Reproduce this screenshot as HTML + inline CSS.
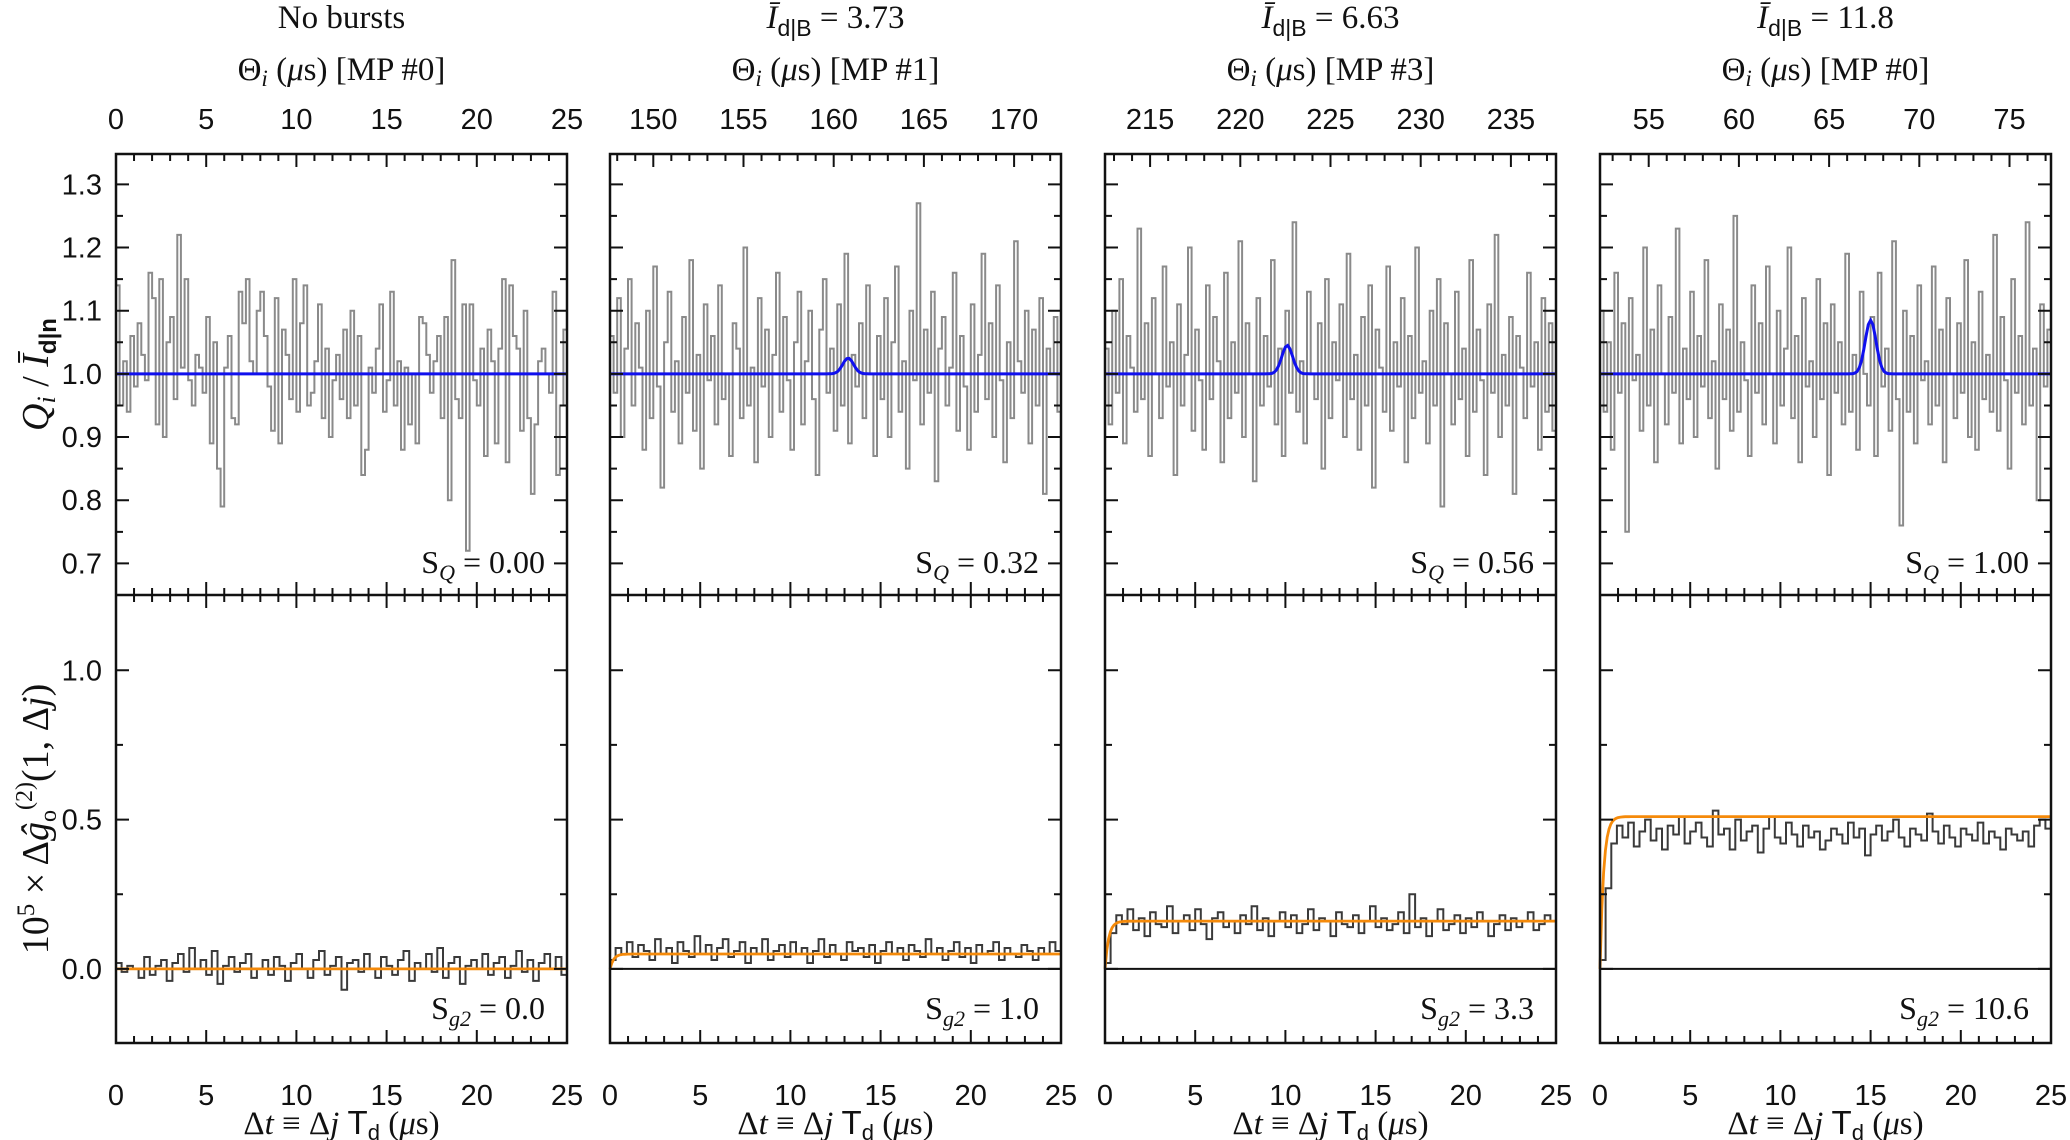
<!DOCTYPE html>
<html><head><meta charset="utf-8"><style>
html,body{margin:0;padding:0;background:#fff}
svg{display:block}
.tk{font-family:"Liberation Sans",sans-serif;font-size:29px;fill:#111}
.sf{font-family:"Liberation Serif",serif;fill:#111}
</style></head><body>
<svg id="fig" width="2070" height="1140" viewBox="0 0 2070 1140" xmlns="http://www.w3.org/2000/svg"></svg>
<script>
// ---- data ----
const panelTitles = ["No bursts","3.73","6.63","11.8"];
const topLabels = ["MP #0","MP #1","MP #3","MP #0"];
const topStart = [0,147.6,212.5,52.3];
const burstCenter = [null,160.8,222.6,67.3];
const burstHeight = [0,0.025,0.045,0.085];
const sQ = ["0.00","0.32","0.56","1.00"];
const sG = ["0.0","1.0","3.3","10.6"];
const fitLevel = [0,0.05,0.16,0.51];
const upperTicks = [0.7,0.8,0.9,1.0,1.1,1.2,1.3];
const lowerTicks = [0.0,0.5,1.0];
const bottomTicks = [0,5,10,15,20,25];

const q1 = [1.14,0.95,1.02,0.94,1.06,0.98,1.08,1.03,0.99,1.16,1.12,0.92,1.15,0.90,1.05,1.09,0.96,1.22,1.01,1.15,0.99,0.95,1.03,1.01,0.97,1.09,0.89,1.05,0.85,0.79,1.01,1.06,0.93,0.92,1.13,1.08,1.15,1.02,1.00,1.10,1.13,1.06,0.98,0.91,1.12,0.89,1.07,1.03,0.96,1.15,0.94,1.08,1.14,0.95,0.97,1.02,1.11,0.93,1.04,0.90,0.99,1.03,0.96,1.07,0.93,1.10,0.95,1.06,0.84,0.88,1.01,0.97,1.04,1.11,0.94,0.99,1.13,0.95,1.02,0.88,1.01,0.92,1.00,0.89,1.09,1.08,1.03,0.97,1.02,1.06,0.93,1.09,0.80,1.18,0.96,0.93,1.11,0.72,1.11,0.99,0.95,1.04,0.87,1.07,1.02,0.89,1.04,1.15,0.86,1.14,1.06,1.04,0.91,1.10,0.93,0.81,0.92,1.02,1.04,1.00,0.97,1.13,0.84,0.95,1.07];
const q2 = [1.06,0.97,1.12,0.90,1.04,1.15,0.95,1.08,1.01,0.88,1.10,0.93,1.17,0.98,0.82,1.05,1.13,0.94,1.02,0.89,1.09,0.97,1.18,0.91,1.03,0.85,1.11,0.99,1.06,0.92,1.14,0.96,1.00,0.87,1.08,1.04,0.93,1.20,0.95,1.01,0.86,1.12,0.98,1.07,0.90,1.03,1.16,0.94,1.09,0.99,0.88,1.05,1.13,0.92,1.02,1.10,0.96,0.84,1.07,1.15,0.97,1.04,0.91,1.11,0.95,1.19,0.89,1.03,0.98,1.08,0.93,1.14,1.00,0.87,1.06,0.96,1.12,0.90,1.05,1.17,0.94,1.02,0.85,1.10,0.99,1.27,0.92,1.07,0.97,1.13,0.83,1.04,1.09,0.95,1.01,1.16,0.91,1.06,0.98,0.88,1.11,0.94,1.03,1.19,0.96,1.08,0.90,1.14,0.99,0.86,1.05,0.93,1.21,1.02,0.97,1.10,0.89,1.07,0.95,1.12,0.81,1.04,1.00,1.09,0.94];
const q3 = [1.04,0.92,1.10,0.97,1.15,0.89,1.06,1.01,0.94,1.23,0.96,1.08,0.87,1.12,1.00,0.93,1.17,0.98,1.05,0.84,1.11,0.95,1.03,1.20,0.91,1.07,0.99,0.88,1.14,0.96,1.09,1.02,0.86,1.16,0.93,1.05,0.97,1.21,0.90,1.08,1.00,0.83,1.12,0.95,1.06,0.98,1.18,0.92,1.04,0.87,1.10,0.97,1.24,0.94,1.02,0.89,1.13,1.00,0.96,1.08,0.85,1.15,0.93,1.05,0.99,1.11,0.90,1.19,0.96,1.03,0.88,1.09,0.95,1.14,0.82,1.07,1.01,0.94,1.17,0.91,1.05,0.98,1.12,0.86,1.06,0.93,1.20,0.97,1.02,0.89,1.10,0.95,1.15,0.79,1.08,1.00,0.92,1.13,0.96,1.04,0.87,1.18,0.94,1.07,0.99,0.84,1.11,0.97,1.22,0.90,1.03,0.95,1.09,0.81,1.06,1.01,0.93,1.16,0.98,1.05,0.88,1.12,0.94,1.08,0.91];
const q4 = [1.10,0.94,1.05,0.88,1.16,0.97,1.08,0.75,1.12,0.99,1.03,0.91,1.20,0.95,1.07,0.86,1.14,1.00,0.92,1.09,0.97,1.23,0.89,1.04,0.96,1.13,0.90,1.06,0.98,1.18,0.93,1.02,0.85,1.11,0.96,1.07,0.91,1.25,0.94,1.05,0.99,0.87,1.14,0.97,1.08,0.92,1.17,1.00,0.89,1.10,0.95,1.04,1.20,0.93,1.06,0.86,1.12,0.98,1.02,0.90,1.15,0.96,1.08,0.84,1.11,0.97,1.05,0.92,1.19,0.94,1.03,0.88,1.13,1.00,0.95,1.09,0.87,1.16,0.98,1.04,0.91,1.21,0.96,0.76,1.10,0.94,1.06,0.89,1.14,0.99,1.02,0.92,1.17,0.95,1.07,0.86,1.12,1.00,0.93,1.08,0.97,1.18,0.90,1.05,0.88,1.13,0.96,1.03,0.94,1.22,0.91,1.09,0.99,0.85,1.15,0.97,1.06,0.92,1.24,0.95,1.04,0.80,1.11,0.98,1.07];

const g1 = [0.02,-0.01,0.01,0.00,-0.03,0.04,-0.02,0.01,0.03,-0.04,0.02,0.05,-0.01,0.07,0.00,0.03,-0.02,0.06,-0.05,0.01,0.04,-0.01,0.02,0.05,-0.03,0.00,0.03,-0.02,0.04,0.01,-0.04,0.02,0.05,0.00,-0.03,0.03,0.06,-0.02,0.01,0.04,-0.07,0.02,0.03,-0.01,0.05,0.00,-0.03,0.04,0.01,-0.02,0.03,0.06,-0.04,0.02,0.00,0.05,-0.01,0.07,-0.03,0.02,0.04,-0.05,0.01,0.03,0.00,0.05,-0.02,0.02,0.04,-0.03,0.01,0.06,-0.01,0.03,-0.04,0.02,0.05,0.00,0.04,-0.02];
const g2 = [0.03,0.07,0.05,0.09,0.04,0.08,0.06,0.03,0.10,0.05,0.07,0.02,0.09,0.06,0.04,0.11,0.05,0.08,0.03,0.07,0.10,0.04,0.06,0.09,0.02,0.07,0.05,0.10,0.03,0.06,0.08,0.04,0.09,0.05,0.07,0.02,0.06,0.10,0.04,0.08,0.05,0.03,0.09,0.06,0.07,0.04,0.08,0.02,0.06,0.09,0.05,0.07,0.03,0.08,0.06,0.04,0.10,0.05,0.07,0.03,0.06,0.09,0.04,0.07,0.02,0.08,0.05,0.06,0.09,0.03,0.07,0.05,0.04,0.08,0.06,0.03,0.07,0.05,0.09,0.06];
const g3 = [0.02,0.12,0.18,0.15,0.20,0.13,0.17,0.11,0.19,0.15,0.14,0.21,0.12,0.16,0.18,0.13,0.20,0.15,0.10,0.17,0.19,0.14,0.16,0.12,0.18,0.15,0.21,0.13,0.17,0.11,0.16,0.19,0.14,0.18,0.12,0.15,0.20,0.13,0.17,0.16,0.11,0.19,0.15,0.14,0.18,0.12,0.16,0.21,0.14,0.17,0.13,0.15,0.19,0.12,0.25,0.14,0.17,0.11,0.16,0.20,0.13,0.15,0.18,0.12,0.17,0.14,0.19,0.16,0.11,0.15,0.18,0.13,0.17,0.14,0.16,0.19,0.13,0.15,0.18,0.16];
const g4 = [0.03,0.27,0.42,0.48,0.44,0.49,0.41,0.46,0.50,0.43,0.47,0.40,0.48,0.45,0.51,0.42,0.46,0.49,0.44,0.41,0.53,0.45,0.47,0.40,0.50,0.43,0.46,0.48,0.39,0.47,0.51,0.44,0.42,0.49,0.45,0.41,0.48,0.44,0.46,0.40,0.43,0.47,0.45,0.42,0.49,0.44,0.47,0.38,0.45,0.48,0.43,0.46,0.50,0.44,0.41,0.47,0.45,0.43,0.52,0.46,0.42,0.48,0.44,0.41,0.47,0.45,0.43,0.49,0.42,0.46,0.44,0.40,0.47,0.45,0.43,0.46,0.41,0.48,0.50,0.47];

const qData=[q1,q2,q3,q4], gData=[g1,g2,g3,g4];

// ---- layout ----
const svg=document.getElementById('fig');
const NS="http://www.w3.org/2000/svg";
const PX=[116,610,1105,1600], PW=451;
const yTop=154, yMid=595, yBot=1043;
function el(tag,attrs,parent){const e=document.createElementNS(NS,tag);for(const k in attrs)e.setAttribute(k,attrs[k]);(parent||svg).appendChild(e);return e;}
const yU=v=>yTop+(1.348-v)/(1.348-0.65)*(yMid-yTop);
const yL=v=>yMid+(1.252-v)/(1.252+0.248)*(yBot-yMid);

for(let p=0;p<4;p++){
  const x0=PX[p];
  const g=el('g',{});
  
  
  const xB=v=>x0+v/25*PW;
  const xT=v=>x0+(v-topStart[p])/25*PW;
  const t=el('text',{x:x0+PW/2,y:28,'text-anchor':'middle','font-size':33,class:'sf'},g);
  
  
  if(p===0){t.textContent=panelTitles[0];}
  else{t.innerHTML='<tspan font-style="italic">Ī</tspan><tspan font-family="Liberation Sans" font-size="23" dy="8">d|B</tspan><tspan dy="-8"> = '+panelTitles[p]+'</tspan>';}
  const th=el('text',{x:x0+PW/2,y:80,'text-anchor':'middle','font-size':33,class:'sf'},g);
  
  
  th.innerHTML='Θ<tspan font-style="italic" font-size="23" dy="6">i</tspan><tspan dy="-6"> (</tspan><tspan font-style="italic">μ</tspan>s) ['+topLabels[p]+']';
  const q=qData[p], bw=25/q.length;
  let d='';
  q.forEach((v,i)=>{const xa=xB(i*bw),xb=xB((i+1)*bw),y=yU(v);d+=(i?'L':'M')+xa.toFixed(1)+','+y.toFixed(1)+'L'+xb.toFixed(1)+','+y.toFixed(1);});
  const pu=el('path',{d:d,fill:'none',stroke:'#8a8a8a','stroke-width':2},g);
  
  
  let bd='';
  for(let k=0;k<=200;k++){const v=topStart[p]+k*25/200;let y=1;if(burstCenter[p]!==null)y+=burstHeight[p]*Math.exp(-Math.pow((v-burstCenter[p])/0.3,2)/2);bd+=(k?'L':'M')+xT(v).toFixed(1)+','+yU(y).toFixed(1);}
  const pb=el('path',{d:bd,fill:'none',stroke:'#1010ee','stroke-width':3},g);
  
  
  const gg=gData[p], bw2=25/gg.length;
  el('line',{x1:x0,x2:x0+PW,y1:yL(0),y2:yL(0),stroke:'#111','stroke-width':2},g);
  let ld='';
  gg.forEach((v,i)=>{const xa=xB(i*bw2),xb=xB((i+1)*bw2),y=yL(v);ld+=(i?'L':'M')+xa.toFixed(1)+','+y.toFixed(1)+'L'+xb.toFixed(1)+','+y.toFixed(1);});
  const pl=el('path',{d:ld,fill:'none',stroke:'#3a3a3a','stroke-width':2},g);
  
  
  let fd='';
  for(let k=0;k<=250;k++){const v=k*25/250;const y=fitLevel[p]*(1-Math.exp(-v/0.2));fd+=(k?'L':'M')+xB(v).toFixed(1)+','+yL(y).toFixed(1);}
  const pf=el('path',{d:fd,fill:'none',stroke:'#f58a0a','stroke-width':2.8},g);
  
  
  el('rect',{x:x0,y:yTop,width:PW,height:yBot-yTop,fill:'none',stroke:'#111','stroke-width':2.5},g);
  el('line',{x1:x0,x2:x0+PW,y1:yMid,y2:yMid,stroke:'#111','stroke-width':2.5},g);
  let tk='';
  for(let v=0;v<=25;v++){const x=xB(v),L=(v%5===0)?13:7;tk+=`M${x},${yBot}v${-L}M${x},${yMid}v${-L}M${x},${yMid}v${L}`;}
  for(let v=Math.ceil(topStart[p]);v<=topStart[p]+25;v++){const x=xT(v),L=(v%5===0)?13:7;tk+=`M${x},${yTop}v${L}`;}
  upperTicks.forEach(v=>{const y=yU(v);tk+=`M${x0},${y}h13M${x0+PW},${y}h-13`;});
  [0.75,0.85,0.95,1.05,1.15,1.25].forEach(v=>{const y=yU(v);tk+=`M${x0},${y}h7M${x0+PW},${y}h-7`;});
  lowerTicks.forEach(v=>{const y=yL(v);tk+=`M${x0},${y}h13M${x0+PW},${y}h-13`;});
  [0.25,0.75].forEach(v=>{const y=yL(v);tk+=`M${x0},${y}h7M${x0+PW},${y}h-7`;});
  el('path',{d:tk,stroke:'#111','stroke-width':2,fill:'none'},g);
  bottomTicks.forEach(v=>{const tt=el('text',{x:xB(v),y:1105,'text-anchor':'middle',class:'tk'},g);tt.textContent=v;
    
    });
  for(let v=Math.ceil(topStart[p]/5)*5;v<=topStart[p]+25;v+=5){const tt=el('text',{x:xT(v),y:129,'text-anchor':'middle',class:'tk'},g);tt.textContent=v;
    
    }
  if(p===0){
    upperTicks.forEach(v=>{const tt=el('text',{x:x0-14,y:yU(v)+10,'text-anchor':'end',class:'tk'},g);tt.textContent=v.toFixed(1);
      
      });
    lowerTicks.forEach(v=>{const tt=el('text',{x:x0-14,y:yL(v)+10,'text-anchor':'end',class:'tk'},g);tt.textContent=v.toFixed(1);
      
      });
  }
  const a1=el('text',{x:x0+PW-22,y:573,'text-anchor':'end','font-size':32,class:'sf'},g);
  
  
  a1.innerHTML='S<tspan font-style="italic" font-size="22" dy="7">Q</tspan><tspan dy="-7"> = '+sQ[p]+'</tspan>';
  const a2=el('text',{x:x0+PW-22,y:1019,'text-anchor':'end','font-size':32,class:'sf'},g);
  
  
  a2.innerHTML='S<tspan font-style="italic" font-size="22" dy="7">g2</tspan><tspan dy="-7"> = '+sG[p]+'</tspan>';
  const xt=el('text',{x:x0+PW/2,y:1134,'text-anchor':'middle','font-size':33,class:'sf'},g);
  
  
  xt.innerHTML='Δ<tspan font-style="italic">t</tspan> ≡ Δ<tspan font-style="italic">j</tspan> <tspan font-family="Liberation Sans">T</tspan><tspan font-family="Liberation Sans" font-size="22" dy="6">d</tspan><tspan dy="-6"> (</tspan><tspan font-style="italic">μ</tspan>s)';
}
const ya=el('text',{transform:`translate(48,${(yTop+yMid)/2}) rotate(-90)`,'text-anchor':'middle','font-size':38,class:'sf'});


ya.innerHTML='<tspan font-style="italic">Q</tspan><tspan font-style="italic" font-size="26" dy="7">i</tspan><tspan dy="-7"> / </tspan><tspan font-style="italic">Ī</tspan><tspan font-family="Liberation Sans" font-weight="bold" font-size="24" dy="8">d|n</tspan>';
const yb=el('text',{transform:`translate(48,${(yMid+yBot)/2}) rotate(-90)`,'text-anchor':'middle','font-size':38,class:'sf'});


yb.innerHTML='10<tspan font-size="25" dy="-14">5</tspan><tspan dy="14"> × Δ</tspan><tspan font-style="italic">ĝ</tspan><tspan font-size="24" dy="8">o</tspan><tspan font-size="24" dy="-24">(2)</tspan><tspan dy="16">(1, Δ</tspan><tspan font-style="italic">j</tspan>)';
</script>
</body></html>
